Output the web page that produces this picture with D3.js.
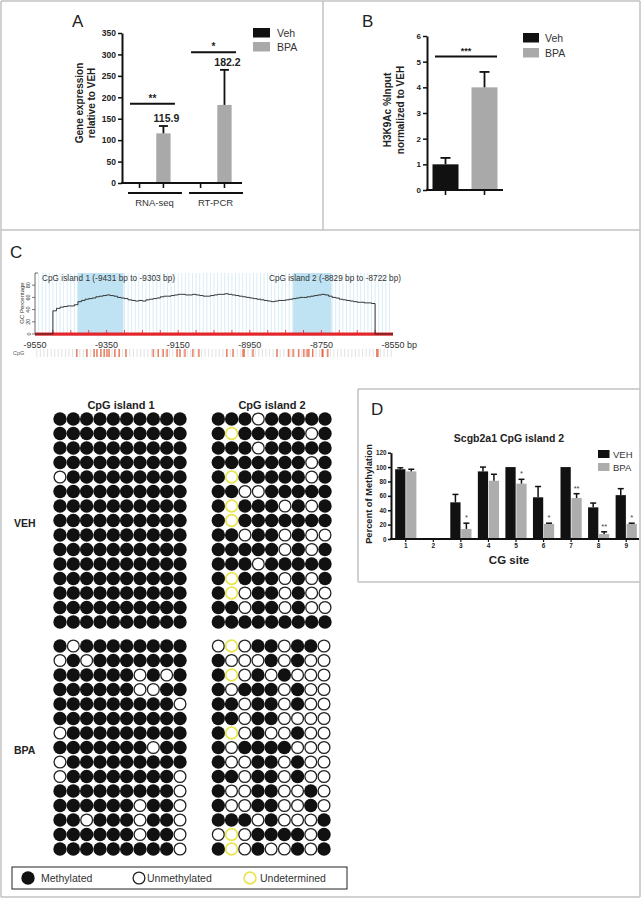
<!DOCTYPE html>
<html><head><meta charset="utf-8">
<script src="https://cdn.jsdelivr.net/npm/d3@7"></script>
<style>body{margin:0;background:#fff}svg{display:block}</style>
</head><body><svg id="c" width="643" height="899"></svg>
<script>
// ---------------- DATA ----------------
// Panel A
const aGroups = ["RNA-seq", "RT-PCR"];
const aSeries = ["Veh", "BPA"];
const aVeh = [1, 1];
const aBPA = [115.9, 182.2];
const aBPAErrTop = [133, 264];
const aValueLabels = ["115.9", "182.2"];
const aSigLabels = ["**", "*"];
const aSigLevel = [185, 305];
const aTicks = [0, 50, 100, 150, 200, 250, 300, 350];

// Panel B
const bSeries = ["Veh", "BPA"];
const bValues = [1.0, 4.0];
const bErrTop = [1.25, 4.6];
const bSigLabel = "***";
const bSigLevel = 5.2;
const bTicks = [0, 1, 2, 3, 4, 5, 6];

// Panel C (GC plot)
const gcStart = -9500;   // first bp with GC value (step 10 bp)
const gcPct = [38,42,44,45,46,46,48,53,55,57,58,59,61,62,63,64,63,62,60,59,
               58,56,55,54,55,54,56,57,58,59,61,62,62,63,64,65,65,64,64,65,
               64,63,62,62,63,64,65,65,66,65,64,63,62,61,60,59,58,57,56,55,
               54,53,54,55,55,56,57,58,59,60,60,61,62,63,64,65,64,62,60,59,
               57,56,55,54,53,52,52,51,51,50,50];
const island1 = [-9431, -9303];
const island2 = [-8829, -8722];
const gcXTicks = [-9550, -9350, -9150, -8950, -8750, -8550];
const gcYTicks = [0, 20, 40, 60, 80];
const cpgSites = [-9433,-9405,-9385,-9377,-9366,-9357,-9349,-9343,-9327,-9315,-9296,
                  -9220,-9206,-9192,-9181,-9153,-9145,-9131,-9109,-9092,
                  -9014,-8997,-8969,-8966,-8941,-8874,-8841,-8829,-8813,-8799,
                  -8790,-8785,-8774,-8748,-8746,-8732,-8595,-8592];

// Panel C (methylation dots) M=methylated, U=unmethylated, Y=undetermined
const veh1 = ["MMMMMMMMMM","MMMMMMMMMM","MMMMMMMMMM","MMMMMMMMMM","UMMMMMMMMM",
              "MMMMMMMMMM","MMMMMMMMMM","MMMMMMMMMM","MMMMMMMMMM","MMMMMMMMMM",
              "MMMMMMMMMM","MMMMMMMMMM","MMMMMMMMMM","MMMMMMMMMM","MMMMMMMMMM"];
const veh2 = ["MMMUMMMMM","MYMMMMMUM","MMMUMMMMM","MMMMMMMUM","MYMMMMMUM",
              "MMUUMMMMM","MYMMMUMUM","MYMMMMMMM","MMUMMUMUU","MMMMMUMUM",
              "MMMUMMMMM","MYMMMUMUM","MYUMMUMUU","MMUMMUMUU","MMMMMMMMM"];
const bpa1 = ["MUMMMMMMMM","UMUMMMMMMM","MMMMMMUMUM","MMMMMMUUMM","MMMMMMMMMU",
              "MMMMMMMMMM","UMMMMMMMMM","MMMMMMMUMM","UMMMMMMMMM","UMMMMMMMMU",
              "MMMMMMMMMU","MMMMMMUMMU","MMUMMMUMMU","MMMMMMUMMU","MMMMMMMMMU"];
const bpa2 = ["UYUMMUMMU","MUUUMUMUU","MYUMUMUUU","MUMMMUMUU","MMUMMUMUU",
              "MMUMMUUUU","MYUMUUMUU","MUMMMMUUU","MUUMMUMUU","MMUMMUMUU",
              "MUUMMUUMU","MUUMMUUMU","MMMUMUUUM","UYUMMMMUM","MYUMUUMUM"];
const dotLegend = ["Methylated", "Unmethylated", "Undetermined"];

// Panel D
const dSites = ["1","2","3","4","5","6","7","8","9"];
const dSeries = ["VEH", "BPA"];
const dVeh    = [97, 0, 51, 94, 100, 58, 100, 44, 61];
const dVehErr = [99, 0, 62, 100, 100, 73, 100, 50, 70];
const dBPA    = [94, 0, 14, 81, 77, 21, 57, 7, 21];
const dBPAErr = [97, 0, 22, 90, 83, 22, 63, 10, 22];
const dStars  = ["", "", "*", "", "*", "*", "**", "**", "*"];
const dTicks = [0, 20, 40, 60, 80, 100, 120];

// ---------------- DRAW ----------------
const FONT = '"Liberation Sans", Arial, Helvetica, sans-serif';
const svg = d3.select("#c").attr("font-family", FONT);
const INK = "#111";
const GRAY = "#a9a9a9";

function ln(g, x1, y1, x2, y2, stroke, w) {
  return g.append("line").attr("x1", x1).attr("y1", y1).attr("x2", x2).attr("y2", y2)
    .attr("stroke", stroke).attr("stroke-width", w);
}
function txt(g, x, y, s, size, opts = {}) {
  const t = g.append("text").attr("x", x).attr("y", y).text(s)
    .attr("font-size", size).attr("fill", opts.fill || "#222")
    .attr("font-weight", opts.bold ? "bold" : "normal")
    .attr("text-anchor", opts.anchor || "start");
  if (opts.rot) t.attr("transform", `rotate(-90,${x},${y})`);
  return t;
}
function styleAxis(ax, size, w) {
  ax.select(".domain").attr("stroke", INK).attr("stroke-width", w);
  ax.selectAll(".tick line").attr("stroke", INK).attr("stroke-width", w * 0.75);
  ax.selectAll(".tick text").attr("font-size", size).attr("font-weight", "bold")
    .attr("fill", "#222").attr("font-family", FONT);
}

// Borders
const bc = "#c2c2c2";
const borders = svg.append("g");
ln(borders, 1, 1, 640, 1, bc, 1.5);
ln(borders, 1, 1, 1, 897, bc, 1.5);
ln(borders, 640, 1, 640, 897, bc, 1.5);
ln(borders, 1, 897, 640, 897, bc, 1.5);
ln(borders, 323, 1, 323, 230, bc, 1.5);
ln(borders, 1, 230, 640, 230, bc, 1.5);
ln(borders, 358, 389, 640, 389, bc, 1.5);
ln(borders, 358, 389, 358, 582, bc, 1.5);
ln(borders, 358, 582, 640, 582, bc, 1.5);

// ===== Panel A =====
const gA = svg.append("g");
txt(gA, 72, 27, "A", 17);
const yA = d3.scaleLinear().domain([0, 350]).range([183, 33]);
const x0A = d3.scaleBand().domain(aGroups).range([124, 240]).paddingInner(0.1);
const x1A = d3.scaleBand().domain(aSeries).range([0, x0A.bandwidth()]).paddingInner(0.4).paddingOuter(0.35);
const colA = d3.scaleOrdinal().domain(aSeries).range([INK, GRAY]);
const axA = gA.append("g").attr("transform", "translate(122,0)")
  .call(d3.axisLeft(yA).tickValues(aTicks).tickSize(4).tickSizeOuter(0).tickPadding(2));
styleAxis(axA, 8.5, 2);
const aRows = aGroups.map((g, i) => ({ g, Veh: aVeh[i], BPA: aBPA[i], err: aBPAErrTop[i], lab: aValueLabels[i], sig: aSigLabels[i], sigL: aSigLevel[i] }));
aRows.forEach(r => {
  aSeries.forEach(s => {
    gA.append("rect").attr("x", x0A(r.g) + x1A(s)).attr("width", x1A.bandwidth())
      .attr("y", yA(r[s])).attr("height", yA(0) - yA(r[s])).attr("fill", colA(s));
    const cx = x0A(r.g) + x1A(s) + x1A.bandwidth() / 2;
    ln(gA, cx, yA(0), cx, yA(0) + 5, INK, 1.6);
  });
  const cx = x0A(r.g) + x1A("BPA") + x1A.bandwidth() / 2;
  ln(gA, cx, yA(r.BPA), cx, yA(r.err), INK, 1.8);
  ln(gA, cx - 4.5, yA(r.err), cx + 4.5, yA(r.err), INK, 1.8);
  txt(gA, cx + 3, yA(r.err) - 4, r.lab, 10.5, { bold: true, anchor: "middle" });
  // significance
  ln(gA, x0A(r.g) + 6, yA(r.sigL), x0A(r.g) + x0A.bandwidth() - 4, yA(r.sigL), INK, 2);
  txt(gA, x0A(r.g) + x0A.bandwidth() / 2 + 1, yA(r.sigL) - 2, r.sig, 10, { bold: true, anchor: "middle" });
  // group underline + label
  ln(gA, x0A(r.g) + 4, 193, x0A(r.g) + x0A.bandwidth() + 3, 193, INK, 2);
  txt(gA, x0A(r.g) + x0A.bandwidth() / 2 + 3, 206, r.g, 9.5, { anchor: "middle", fill: "#333" });
});
ln(gA, 121, yA(0), 242, yA(0), INK, 2);
txt(gA, 83, 103, "Gene expression", 10, { bold: true, anchor: "middle", rot: true });
txt(gA, 95, 103, "relative to VEH", 10, { bold: true, anchor: "middle", rot: true });
aSeries.forEach((s, i) => {
  gA.append("rect").attr("x", 253).attr("y", 28 + i * 14).attr("width", 17).attr("height", 9.5).attr("fill", colA(s));
  txt(gA, 277, 37 + i * 14, s, 10.5, { fill: "#333" });
});

// ===== Panel B =====
const gB = svg.append("g");
txt(gB, 362, 27, "B", 17);
const yB = d3.scaleLinear().domain([0, 6]).range([190, 36]);
const xB = d3.scaleBand().domain(bSeries).range([427, 503]).paddingInner(0.333).paddingOuter(0.141);
const colB = d3.scaleOrdinal().domain(bSeries).range([INK, GRAY]);
const axB = gB.append("g").attr("transform", "translate(427,0)")
  .call(d3.axisLeft(yB).tickValues(bTicks).tickFormat(d3.format("d")).tickSize(4).tickSizeOuter(0).tickPadding(2));
styleAxis(axB, 8, 2);
bSeries.forEach((s, i) => {
  gB.append("rect").attr("x", xB(s)).attr("width", xB.bandwidth()).attr("y", yB(bValues[i]))
    .attr("height", yB(0) - yB(bValues[i])).attr("fill", colB(s));
  const cx = xB(s) + xB.bandwidth() / 2;
  ln(gB, cx, yB(bValues[i]), cx, yB(bErrTop[i]), INK, 1.8);
  ln(gB, cx - 5, yB(bErrTop[i]), cx + 5, yB(bErrTop[i]), INK, 1.8);
  ln(gB, cx, yB(0), cx, yB(0) + 5, INK, 1.6);
  gB.append("rect").attr("x", 523).attr("y", 33 + i * 15).attr("width", 16).attr("height", 9.5).attr("fill", colB(s));
  txt(gB, 545, 42 + i * 15, s, 10.5, { fill: "#333" });
});
ln(gB, 426, yB(0), 503, yB(0), INK, 2);
ln(gB, 435, yB(bSigLevel), 497, yB(bSigLevel), INK, 2);
txt(gB, 466, yB(bSigLevel) - 3, bSigLabel, 9, { bold: true, anchor: "middle" });
txt(gB, 391, 110, "H3K9Ac %Input", 10, { bold: true, anchor: "middle", rot: true });
txt(gB, 404, 110, "normalized to VEH", 10, { bold: true, anchor: "middle", rot: true });

// ===== Panel C: GC plot =====
const gC = svg.append("g");
txt(gC, 10, 258, "C", 17);
const xC = d3.scaleLinear().domain([-9550, -8550]).range([35, 393]);
const yC = d3.scaleLinear().domain([0, 100]).range([334, 273]);
// grid lines
d3.range(-9540, -8550, 10).forEach(bp => ln(gC, xC(bp), yC(100), xC(bp), yC(0), "#cfe7f4", 0.8));
// island shading
[island1, island2].forEach(isl => {
  gC.append("rect").attr("x", xC(isl[0])).attr("width", xC(isl[1]) - xC(isl[0]))
    .attr("y", yC(100)).attr("height", yC(0) - yC(100)).attr("fill", "#bfe3f3");
});
// red base
gC.append("rect").attr("x", xC(-9550)).attr("width", xC(-8550) - xC(-9550))
  .attr("y", yC(0) - 1.5).attr("height", 3.2).attr("fill", "#e3262b");
d3.range(-9500, -8550, 50).forEach(bp => ln(gC, xC(bp), yC(0) - 4, xC(bp), yC(0), "#e3262b", 0.8));
// GC curve
const gcPts = [[-9550, 0], [gcStart, 0]];
gcPct.forEach((v, i) => gcPts.push([gcStart + i * 10, v]));
gcPts.push([gcStart + (gcPct.length - 1) * 10, 0], [-8550, 0]);
gC.append("path").attr("d", d3.line().x(d => xC(d[0])).y(d => yC(d[1])).curve(d3.curveStepAfter)(gcPts))
  .attr("fill", "none").attr("stroke", "#222").attr("stroke-width", 0.9);
// y axis
ln(gC, 35, yC(100), 35, yC(0), "#444", 0.8);
ln(gC, 35, yC(100), 38, yC(100), "#444", 0.8);
gcYTicks.forEach(v => {
  ln(gC, 32, yC(v), 35, yC(v), "#444", 0.7);
  txt(gC, 30.5, yC(v), String(v), 5.5, { anchor: "middle", rot: true, fill: "#333" });
});
txt(gC, 24, 303, "GC Percentage", 6, { anchor: "middle", rot: true, fill: "#333" });
// x labels
gcXTicks.forEach(v => txt(gC, xC(v), 348, String(v), 9, { anchor: "middle", fill: "#333" }));
txt(gC, xC(-8550) + 14, 348, "bp", 9, { fill: "#333" });
// island titles
txt(gC, 42, 281, "CpG island 1 (-9431 bp to -9303 bp)", 8.2, { fill: "#333" }).attr("textLength", 133);
txt(gC, 401, 281, "CpG island 2 (-8829 bp to -8722 bp)", 8.2, { fill: "#333", anchor: "end" }).attr("textLength", 132);
// CpG track
txt(gC, 13, 355, "CpG", 5.5, { fill: "#555" });
d3.range(-9545, -8550, 10).forEach(bp => ln(gC, xC(bp), 349, xC(bp), 357, "#d5d5d5", 0.7));
cpgSites.forEach(bp => ln(gC, xC(bp), 349, xC(bp), 357, "#e4572e", 1.1));

// ===== Panel C: methylation matrices =====
const gM = svg.append("g");
txt(gM, 121, 409, "CpG island 1", 11, { bold: true, anchor: "middle" });
txt(gM, 272, 409, "CpG island 2", 11, { bold: true, anchor: "middle" });
txt(gM, 14, 527, "VEH", 10.5, { bold: true });
txt(gM, 14, 754, "BPA", 10.5, { bold: true });
function drawMatrix(rows, xStart, xEnd, yStart, yEnd) {
  const nc = rows[0].length;
  const xs = d3.scalePoint().domain(d3.range(nc)).range([xStart, xEnd]);
  const ys = d3.scalePoint().domain(d3.range(rows.length)).range([yStart, yEnd]);
  rows.forEach((r, ri) => {
    r.split("").forEach((c, ci) => dot(gM, xs(ci), ys(ri), c));
  });
}
function dot(g, x, y, c) {
  if (c === "M") g.append("circle").attr("cx", x).attr("cy", y).attr("r", 6.7).attr("fill", INK);
  else if (c === "U") g.append("circle").attr("cx", x).attr("cy", y).attr("r", 5.9).attr("fill", "#fff").attr("stroke", "#222").attr("stroke-width", 1.3);
  else g.append("circle").attr("cx", x).attr("cy", y).attr("r", 5.9).attr("fill", "#fff").attr("stroke", "#e8e44a").attr("stroke-width", 1.6);
}
drawMatrix(veh1, 60, 180, 419, 622);
drawMatrix(veh2, 218.3, 325, 419, 622);
drawMatrix(bpa1, 60, 180, 646, 849);
drawMatrix(bpa2, 218.3, 324, 646, 849);
// legend
gM.append("rect").attr("x", 12).attr("y", 867).attr("width", 335).attr("height", 22)
  .attr("fill", "none").attr("stroke", "#222").attr("stroke-width", 1);
const legX = [28, 139, 250];
const legTX = [41, 147, 260];
["M", "U", "Y"].forEach((c, i) => {
  dot(gM, legX[i], 878, c);
  txt(gM, legTX[i], 882, dotLegend[i], 10.5, { fill: "#333" });
});

// ===== Panel D =====
const gD = svg.append("g");
txt(gD, 371, 415, "D", 17);
txt(gD, 509, 442, "Scgb2a1 CpG island 2", 10.5, { bold: true, anchor: "middle" });
const yD = d3.scaleLinear().domain([0, 120]).range([539, 452.7]);
const x0D = d3.scaleBand().domain(dSites).range([392, 640]).paddingInner(0);
const x1D = d3.scaleBand().domain(dSeries).range([0, x0D.bandwidth()]).paddingInner(0.064).paddingOuter(0.29);
const colD = d3.scaleOrdinal().domain(dSeries).range([INK, "#adadad"]);
const axD = gD.append("g").attr("transform", "translate(391,0)")
  .call(d3.axisLeft(yD).tickValues(dTicks).tickSize(3).tickSizeOuter(0).tickPadding(1.5));
styleAxis(axD, 6.3, 2);
dSites.forEach((s, i) => {
  const v = { VEH: dVeh[i], BPA: dBPA[i] }, e = { VEH: dVehErr[i], BPA: dBPAErr[i] };
  dSeries.forEach(k => {
    if (v[k] <= 0) return;
    const x = x0D(s) + x1D(k), cx = x + x1D.bandwidth() / 2;
    gD.append("rect").attr("x", x).attr("width", x1D.bandwidth()).attr("y", yD(v[k]))
      .attr("height", yD(0) - yD(v[k])).attr("fill", colD(k));
    if (e[k] > v[k] + 0.5) {
      ln(gD, cx, yD(v[k]), cx, yD(e[k]), INK, 1.5);
      ln(gD, cx - 3, yD(e[k]), cx + 3, yD(e[k]), INK, 1.5);
    }
  });
  if (dStars[i]) {
    const cx = x0D(s) + x1D("BPA") + x1D.bandwidth() / 2;
    txt(gD, cx, yD(Math.max(dBPAErr[i], dBPA[i])) - 3, dStars[i], 7.5, { anchor: "middle", fill: "#444" });
  }
  const cx = x0D(s) + x0D.bandwidth() / 2;
  ln(gD, cx, yD(0), cx, yD(0) + 3, INK, 1.2);
  txt(gD, cx, 548, s, 6.5, { bold: true, anchor: "middle" });
});
ln(gD, 390, yD(0), 639, yD(0), INK, 2);
txt(gD, 372, 494, "Percent of Methylation", 9.3, { bold: true, anchor: "middle", rot: true });
txt(gD, 509, 564, "CG site", 11.5, { bold: true, anchor: "middle" });
dSeries.forEach((k, i) => {
  gD.append("rect").attr("x", 598).attr("y", 450 + i * 13).attr("width", 11.5).attr("height", 8).attr("fill", colD(k));
  txt(gD, 613, 458 + i * 13, k, 9.5, { fill: "#333" });
});
</script></body></html>
